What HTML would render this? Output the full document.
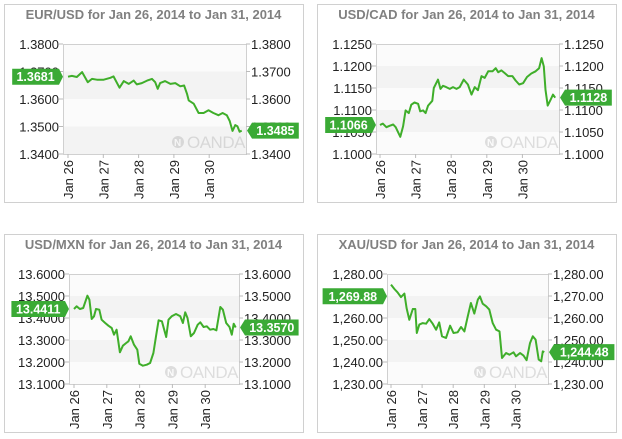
<!DOCTYPE html>
<html><head><meta charset="utf-8"><style>
body{margin:0;background:#fff;width:622px;height:439px;overflow:hidden;font-family:"Liberation Sans",sans-serif}
svg{position:absolute;left:0;top:0}
</style></head><body>
<svg id="s" width="622" height="439"></svg>
<script>
const dayTicks=["Jan 26","Jan 27","Jan 28","Jan 29","Jan 30"];
const eurTitle="EUR/USD for Jan 26, 2014 to Jan 31, 2014";
const eurTicks=["1.3800","1.3700","1.3600","1.3500","1.3400"];
const eurTickVals=[1.38,1.37,1.36,1.35,1.34];
const eurDays=[0,.11,.25,.40,.56,.68,.82,1.01,1.20,1.29,1.46,1.58,1.72,1.86,1.95,2.09,2.24,2.38,2.47,2.54,2.61,2.75,2.90,3.04,3.18,3.29,3.37,3.42,3.56,3.70,3.84,3.98,4.12,4.26,4.38,4.50,4.58,4.66,4.74,4.80,4.86,4.92];
const eurVals=[1.3681,1.3684,1.3680,1.3698,1.3661,1.3673,1.3670,1.3670,1.3677,1.3682,1.3641,1.3665,1.3655,1.3667,1.3653,1.3658,1.3667,1.3673,1.3661,1.3637,1.3658,1.3665,1.3655,1.3658,1.3646,1.3649,1.3619,1.3595,1.3583,1.3549,1.3549,1.3559,1.3549,1.3541,1.3549,1.3541,1.3520,1.3484,1.3505,1.3501,1.3481,1.3485];
const eurBadges=["1.3681","1.3485"];

const cadTitle="USD/CAD for Jan 26, 2014 to Jan 31, 2014";
const cadTicks=["1.1250","1.1200","1.1150","1.1100","1.1050","1.1000"];
const cadTickVals=[1.125,1.12,1.115,1.11,1.105,1.10];
const cadDays=[0,.08,.18,.27,.37,.44,.51,.57,.65,.72,.81,.88,.97,1.07,1.13,1.21,1.28,1.35,1.47,1.51,1.63,1.70,1.77,1.86,1.96,2.05,2.15,2.24,2.35,2.47,2.57,2.66,2.75,2.85,2.94,3.04,3.16,3.25,3.32,3.41,3.50,3.60,3.72,3.81,3.91,4.02,4.13,4.25,4.37,4.47,4.54,4.60,4.65,4.71,4.79,4.86,4.92];
const cadVals=[1.1066,1.1069,1.1061,1.1064,1.1067,1.1061,1.1049,1.1039,1.1063,1.1099,1.1093,1.1112,1.1117,1.1114,1.1097,1.1099,1.1093,1.1110,1.1121,1.1150,1.1169,1.1148,1.1155,1.1152,1.1148,1.1152,1.1148,1.1152,1.1169,1.1158,1.1135,1.1152,1.1145,1.1177,1.1173,1.1188,1.1188,1.1195,1.1186,1.1190,1.1184,1.1177,1.1177,1.1167,1.1158,1.1161,1.1175,1.1183,1.1188,1.1195,1.1218,1.1199,1.1146,1.1110,1.1123,1.1135,1.1128];
const cadBadges=["1.1066","1.1128"];

const mxnTitle="USD/MXN for Jan 26, 2014 to Jan 31, 2014";
const mxnTicks=["13.6000","13.5000","13.4000","13.3000","13.2000","13.1000"];
const mxnTickVals=[13.6,13.5,13.4,13.3,13.2,13.1];
const mxnDays=[0,.08,.18,.28,.41,.47,.54,.61,.67,.77,.84,.95,1.05,1.15,1.22,1.30,1.40,1.49,1.59,1.66,1.73,1.83,1.93,1.99,2.10,2.22,2.32,2.42,2.50,2.58,2.68,2.75,2.81,2.88,2.98,3.11,3.24,3.32,3.39,3.46,3.56,3.66,3.77,3.85,3.95,4.05,4.15,4.25,4.34,4.46,4.54,4.64,4.74,4.81,4.87,4.93];
const mxnVals=[13.4411,13.4530,13.4409,13.4455,13.5015,13.4833,13.3955,13.4076,13.4409,13.4379,13.3924,13.3773,13.3652,13.3545,13.3242,13.3470,13.2439,13.2742,13.2864,13.2939,13.3167,13.2788,13.2561,13.1924,13.1833,13.1879,13.1955,13.2409,13.3167,13.3894,13.3848,13.3470,13.3136,13.3924,13.4076,13.4182,13.4076,13.3773,13.4258,13.4000,13.3167,13.3318,13.3697,13.3803,13.3591,13.3621,13.3470,13.3500,13.3439,13.4500,13.4379,13.3773,13.3591,13.3242,13.3742,13.3570];
const mxnBadges=["13.4411","13.3570"];

const xauTitle="XAU/USD for Jan 26, 2014 to Jan 31, 2014";
const xauTicks=["1,280.00","1,270.00","1,260.00","1,250.00","1,240.00","1,230.00"];
const xauTickVals=[1280,1270,1260,1250,1240,1230];
const xauDays=[0,.11,.21,.32,.43,.50,.59,.70,.78,.83,.91,1.02,1.13,1.23,1.34,1.45,1.55,1.64,1.77,1.90,2.01,2.14,2.25,2.36,2.47,2.57,2.68,2.79,2.86,2.95,3.06,3.16,3.27,3.38,3.49,3.57,3.70,3.81,3.94,4.02,4.15,4.26,4.36,4.47,4.56,4.65,4.75,4.83,4.88,4.93];
const xauVals=[1275.2,1273.2,1271.7,1269.5,1271.1,1264.5,1259.2,1264.1,1264.1,1253.2,1257.0,1257.7,1257.4,1259.5,1257.4,1254.7,1258.0,1251.7,1250.9,1256.5,1253.2,1253.5,1255.9,1253.9,1260.8,1266.8,1262.0,1268.3,1269.8,1266.5,1265.3,1263.8,1257.7,1254.7,1253.9,1241.8,1244.1,1243.3,1244.4,1242.6,1244.1,1242.9,1240.8,1248.6,1251.7,1250.2,1241.1,1240.3,1244.8,1244.5];
const xauBadges=["1,269.88","1,244.48"];
const xauBadgeVals=[1269.88,1244.48];

const NS="http://www.w3.org/2000/svg";
const svg=document.getElementById('s');
function mk(tag,attrs,parent,txt){const e=document.createElementNS(NS,tag);for(const k in attrs)e.setAttribute(k,attrs[k]);if(txt!==undefined)e.textContent=txt;(parent||svg).appendChild(e);return e;}

function panel(id,box,plot,title,ticks,tickVals,days,vals,badges,badgeVals,tick0,daySp){
  const g=mk('g',{});
  
  
  const fr=mk('rect',{x:box[0]+.5,y:box[1]+.5,width:box[2]-box[0],height:box[3]-box[1],fill:'#fff',stroke:'#d0d0d0'},g);
  
  const t=mk('text',{x:(box[0]+box[2])/2,y:box[1]+15,'text-anchor':'middle','font-size':'13','font-weight':'bold',fill:'#808080'},g,title);
  
  const [L,T,R,B]=plot;
  const vmax=tickVals[0],vmin=tickVals[tickVals.length-1];
  const y=v=>T+(vmax-v)/(vmax-vmin)*(B-T);
  const x=d=>tick0+d*daySp;
  mk('rect',{x:L,y:T,width:R-L,height:B-T,fill:'#fbfbfb'},g);
  for(let i=0;i<tickVals.length-1;i++){
    if(i%2===1){mk('rect',{x:L,y:y(tickVals[i]),width:R-L,height:y(tickVals[i+1])-y(tickVals[i]),fill:'#f3f3f3'},g);}
  }
  mk('rect',{x:L+.5,y:T+.5,width:R-L,height:B-T,fill:'none',stroke:'#d0d0d0'},g);
  tickVals.forEach((v,i)=>{
    const yy=y(v);
    mk('line',{x1:L-4,x2:L,y1:yy,y2:yy,stroke:'#bbb'},g);
    mk('line',{x1:R,x2:R+4,y1:yy,y2:yy,stroke:'#bbb'},g);
    const a=mk('text',{x:L-4,y:yy+5,'text-anchor':'end','font-size':'13',fill:'#222'},g,ticks[i]);
    
    const b=mk('text',{x:R+5,y:yy+5,'font-size':'13',fill:'#222'},g,ticks[i]);
    
  });
  dayTicks.forEach((lab,i)=>{
    const xx=x(i);
    mk('line',{x1:xx,x2:xx,y1:B,y2:B+4,stroke:'#bbb'},g);
    const tx=mk('text',{transform:`translate(${xx+5},${B+6}) rotate(-90)`,'text-anchor':'end','font-size':'13',fill:'#222'},g,lab);
    
  });
  const wm=mk('g',{opacity:'0.3'},g);
  
  const wx=R-73,wy=B-12;
  mk('circle',{cx:wx+5,cy:wy,r:6,fill:'#999'},wm);
  mk('text',{x:wx+1,y:wy+4,'font-size':'10','font-weight':'bold',fill:'#fff'},wm,'N');
  mk('text',{x:wx+14,y:wy+6,'font-size':'17',fill:'#999','letter-spacing':'-0.5'},wm,'OANDA');
  const pts=days.map((d,i)=>x(d).toFixed(1)+','+y(vals[i]).toFixed(1)).join(' ');
  const pl=mk('polyline',{points:pts,fill:'none',stroke:'#3fae2a','stroke-width':'2','stroke-linejoin':'round'},g);
  
  const bv=badgeVals||[vals[0],vals[vals.length-1]];
  const w0=badges[0].length*6.8+6, y0=y(bv[0]);
  const lb=mk('g',{},g);
  
  mk('path',{d:`M${L-w0-4},${y0-8}H${L-4}L${L},${y0}L${L-4},${y0+8}H${L-w0-4}Z`,fill:'#3aaa35'},lb);
  mk('text',{x:L-w0/2-4,y:y0+4.5,'text-anchor':'middle','font-size':'12.5','font-weight':'bold',fill:'#fff'},lb,badges[0]);
  const w1=badges[1].length*6.8+6, y1=y(bv[1]);
  const rb=mk('g',{},g);
  
  mk('path',{d:`M${R+1},${y1}L${R+6},${y1-8}H${R+6+w1}V${y1+8}H${R+6}Z`,fill:'#3aaa35'},rb);
  mk('text',{x:R+6+w1/2,y:y1+4.5,'text-anchor':'middle','font-size':'12.5','font-weight':'bold',fill:'#fff'},rb,badges[1]);
}
panel('eurusd',[4,4,303,202],[63,44,246,154],eurTitle,eurTicks,eurTickVals,eurDays,eurVals,eurBadges,null,68,35.3);
panel('usdcad',[317,4,616,202],[376,44,559,154],cadTitle,cadTicks,cadTickVals,cadDays,cadVals,cadBadges,null,380,35.6);
panel('usdmxn',[4,234,303,432],[69,274,239,384],mxnTitle,mxnTicks,mxnTickVals,mxnDays,mxnVals,mxnBadges,null,74,32.8);
panel('xauusd',[317,234,616,432],[387,274,548,384],xauTitle,xauTicks,xauTickVals,xauDays,xauVals,xauBadges,xauBadgeVals,391,31.1);
</script>
</body></html>
